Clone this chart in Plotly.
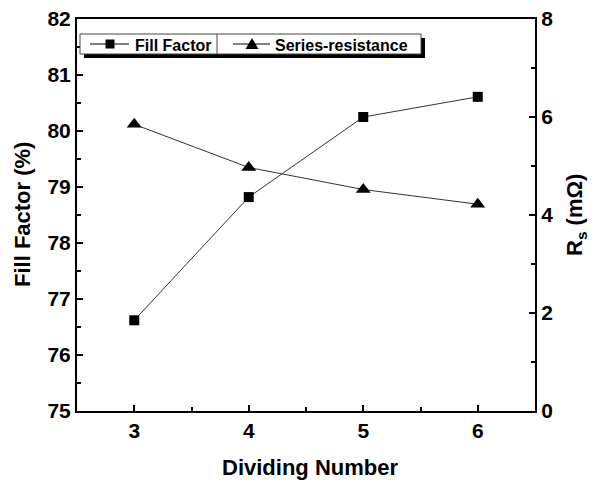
import plotly.graph_objects as go

dividing_number = [3, 4, 5, 6]
fill_factor = [76.62, 78.82, 80.25, 80.61]
series_resistance = [5.85, 4.97, 4.52, 4.22]
series_names = ["Fill Factor", "Series-resistance"]

FONT = "Liberation Sans"
W, H = 593, 486
ML, MR, MT, MB = 77, 58, 19, 75
PW, PH = W - ML - MR, H - MT - MB

fig = go.Figure()
fig.add_trace(go.Scatter(
    x=dividing_number, y=fill_factor, name=series_names[0], mode="lines+markers",
    line=dict(color="#333333", width=1),
    marker=dict(symbol="square", size=10, color="black"),
    yaxis="y"))
fig.add_trace(go.Scatter(
    x=dividing_number, y=series_resistance, name=series_names[1], mode="lines+markers",
    line=dict(color="#333333", width=1),
    marker=dict(symbol="triangle-up", size=13, color="black"),
    yaxis="y2"))

def px2x(px):
    return (px - ML) / PW

def py2y(py):
    return 1 - (py - MT) / PH

def prect(x0, y0, x1, y1, **kw):
    return dict(type="rect", xref="paper", yref="paper",
                x0=px2x(x0), x1=px2x(x1), y0=py2y(y1), y1=py2y(y0), layer="above", **kw)

def pline(x0, y0, x1, y1, color="black", width=1):
    return dict(type="line", xref="paper", yref="paper",
                x0=px2x(x0), x1=px2x(x1), y0=py2y(y0), y1=py2y(y1),
                line=dict(color=color, width=width), layer="above")

# legend box (drawn manually)
L, M, T, R, B = 80, 217, 34, 421, 54
cy = 44
tx0, ty0 = 252, cy
shapes = [
    prect(L + 4, T + 4, R + 4, B + 4, fillcolor="black", line=dict(width=0)),
    prect(L, T, R, B, fillcolor="white", line=dict(color="#444444", width=1)),
    pline(M, T, M, B, color="#444444"),
    pline(90, cy, 129, cy),
    prect(105.5, cy - 4.5, 114.5, cy + 4.5, fillcolor="black", line=dict(width=0)),
    pline(233, cy, 270, cy),
    dict(type="path", xref="paper", yref="paper", layer="above",
         path="M {} {} L {} {} L {} {} Z".format(
             px2x(tx0 - 6.5), py2y(ty0 + 5), px2x(tx0 + 6.5), py2y(ty0 + 5),
             px2x(tx0), py2y(ty0 - 6)),
         fillcolor="black", line=dict(width=0)),
]

leg_font = dict(family=FONT, size=16, color="black", weight="bold")
tick_font = dict(family=FONT, size=21, weight="bold", color="black")
title_font = dict(family=FONT, size=22, weight="bold", color="black")

annotations = [
    dict(text=series_names[0], xref="paper", yref="paper", x=px2x(133), y=py2y(cy + 1),
         showarrow=False, font=leg_font, xanchor="left", yanchor="middle"),
    dict(text=series_names[1], xref="paper", yref="paper", x=px2x(273), y=py2y(cy + 1),
         showarrow=False, font=leg_font, xanchor="left", yanchor="middle"),
    dict(text="Dividing Number", xref="paper", yref="paper", x=px2x(310), y=py2y(467),
         showarrow=False, font=title_font, xanchor="center", yanchor="middle"),
    dict(text="Fill Factor (%)", xref="paper", yref="paper", x=px2x(22), y=py2y(215),
         showarrow=False, font=title_font, textangle=-90, xanchor="center", yanchor="middle"),
    dict(text="R<sub>s</sub> (mΩ)", xref="paper", yref="paper", x=px2x(576), y=py2y(215),
         showarrow=False, font=title_font, textangle=-90, xanchor="center", yanchor="middle"),
]

fig.update_layout(
    width=W, height=H,
    margin=dict(l=ML, r=MR, t=MT, b=MB),
    paper_bgcolor="white", plot_bgcolor="white",
    font=dict(family=FONT, color="black"),
    showlegend=False,
    xaxis=dict(range=[2.5, 6.5], tickvals=[3, 4, 5, 6], showgrid=False, zeroline=False,
               showline=True, linecolor="black", linewidth=2, mirror=True, automargin=False,
               ticks="inside", ticklen=6, tickwidth=2, tickcolor="black",
               minor=dict(ticks="inside", ticklen=4, tickwidth=2, dtick=0.5, tickcolor="black", showgrid=False),
               tickfont=tick_font),
    yaxis=dict(range=[75, 82], dtick=1, showgrid=False, zeroline=False, automargin=False,
               showline=True, linecolor="black", linewidth=2,
               ticks="inside", ticklen=6, tickwidth=2, tickcolor="black",
               minor=dict(ticks="inside", ticklen=4, tickwidth=2, dtick=0.5, tickcolor="black", showgrid=False),
               tickfont=tick_font),
    yaxis2=dict(range=[0, 8], dtick=2, overlaying="y", side="right", showgrid=False, zeroline=False,
                showline=True, linecolor="black", linewidth=2, automargin=False,
                ticks="inside", ticklen=6, tickwidth=2, tickcolor="black",
                minor=dict(ticks="inside", ticklen=4, tickwidth=2, dtick=1, tickcolor="black", showgrid=False),
                tickfont=tick_font),
    shapes=shapes,
    annotations=annotations,
)

fig.write_html("out.html", config={"displayModeBar": False},
               post_script="document.body.style.margin='0';")
